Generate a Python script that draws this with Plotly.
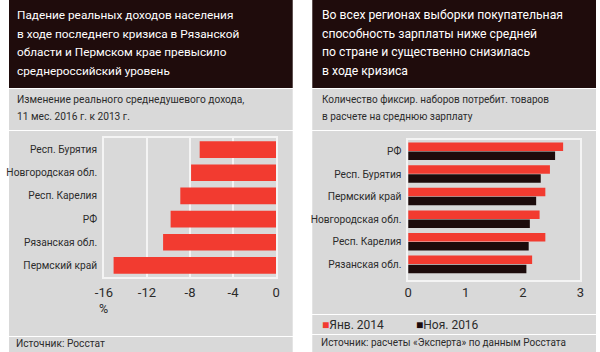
import plotly.graph_objects as go

W, H = 600, 352

# ---- data ----
left_categories = ["Респ. Бурятия", "Новгородская обл.", "Респ. Карелия", "РФ", "Рязанская обл.", "Пермский край"]
left_values = [-7.1, -7.9, -8.9, -9.8, -10.5, -15.1]
left_ticks = [-16, -12, -8, -4, 0]
left_tick_labels = ["-16", "-12", "-8", "-4", "0"]

right_categories = ["РФ", "Респ. Бурятия", "Пермский край", "Новгородская обл.", "Респ. Карелия", "Рязанская обл."]
series_names = ["Янв. 2014", "Ноя. 2016"]
jan2014 = [2.70, 2.47, 2.39, 2.29, 2.39, 2.16]
nov2016 = [2.56, 2.31, 2.23, 2.12, 2.10, 2.06]
right_ticks = [0, 1, 2, 3]

left_title = ["Падение реальных доходов населения", "в ходе последнего кризиса в Рязанской",
              "области и Пермском крае превысило", "среднероссийский уровень"]
right_title = ["Во всех регионах выборки покупательная", "способность зарплаты ниже средней",
               "по стране и существенно снизилась", "в ходе кризиса"]
left_sub = ["Изменение реального среднедушевого дохода,", "11 мес. 2016 г. к 2013 г."]
right_sub = ["Количество фиксир. наборов потребит. товаров", "в расчете на среднюю зарплату"]
left_source = "Источник: Росстат"
right_source = "Источник: расчеты «Эксперта» по данным Росстата"
unit_label = "%"

# ---- style ----
FONT = "Roboto, Liberation Sans, sans-serif"
DARK = "#1f0c0c"
GREY = "#d9d9d9"
RED = "#f23b30"
BLACK = "#1c0b0b"
TXT = "#2b2b2b"

def px(x):
    return x / W

def py(y):
    return 1 - y / H

fig = go.Figure()

fig.add_trace(go.Bar(
    x=left_values, y=left_categories, orientation="h",
    marker=dict(color=RED, line=dict(width=0)), width=0.72,
    xaxis="x", yaxis="y", showlegend=False))

fig.add_trace(go.Bar(
    x=jan2014, y=right_categories, orientation="h", name=series_names[0],
    marker=dict(color=RED, line=dict(width=0)),
    xaxis="x2", yaxis="y2", showlegend=False))
fig.add_trace(go.Bar(
    x=nov2016, y=right_categories, orientation="h", name=series_names[1],
    marker=dict(color=BLACK, line=dict(width=0)),
    xaxis="x2", yaxis="y2", showlegend=False))

shapes = []
def rect(x0, y0, x1, y1, color):
    shapes.append(dict(type="rect", xref="paper", yref="paper",
                       x0=px(x0), x1=px(x1), y0=py(y1), y1=py(y0),
                       fillcolor=color, line=dict(width=0), layer="below"))

# left panel
rect(0, 0, 290, 88, DARK)
rect(0, 89, 290, 130, GREY)
rect(0, 131, 290, 336, GREY)
rect(0, 337, 290, 352, GREY)
# right panel
rect(310, 0, 600, 88, DARK)
rect(310, 89, 600, 130, GREY)
rect(310, 131, 600, 314, GREY)
rect(310, 315, 600, 334, GREY)
rect(310, 335, 600, 352, GREY)

ann = []
def text(x, y, s, size, color, anchor="left"):
    ann.append(dict(x=px(x), y=py(y), xref="paper", yref="paper", text=s,
                    showarrow=False, xanchor=anchor, yanchor="middle", align="left",
                    borderpad=0, font=dict(family=FONT, size=size, color=color)))

title_y = [15, 33.7, 52.3, 71]
for i, line in enumerate(left_title):
    text(7, title_y[i], line, 11.8, "white")
for i, line in enumerate(right_title):
    text(319, title_y[i], line, 12.2, "white")
sub_y = [99, 116.5]
for i, line in enumerate(left_sub):
    text(7, sub_y[i], line, 10.2, TXT)
for i, line in enumerate(right_sub):
    text(319, sub_y[i], line, 10, TXT)
text(6, 343.5, left_source, 10.2, TXT)
text(318, 342.5, right_source, 10, TXT)
text(97, 308, unit_label, 12.5, TXT, anchor="center")
# legend
text(319, 325, f"<span style='color:{RED}'>■</span>{series_names[0]}", 12, TXT)
text(415, 325, f"<span style='color:{BLACK}'>■</span>{series_names[1]}", 12, TXT)

axis_common = dict(showline=True, mirror=True, linecolor="#f4f4f4", linewidth=1.5,
                   zeroline=False, tickfont=dict(family=FONT, size=13, color=TXT))
cat_font = dict(family=FONT, size=10.2, color=TXT)

fig.update_layout(
    width=W, height=H, margin=dict(l=0, r=0, t=0, b=0),
    paper_bgcolor="white", plot_bgcolor=GREY,
    barmode="group", bargap=0.2, bargroupgap=0.06,
    shapes=shapes, annotations=ann,
    font=dict(family=FONT),
    xaxis=dict(domain=[px(97), px(273)], range=[-16, 0], tickvals=left_ticks,
               ticktext=left_tick_labels,
               showgrid=True, gridcolor="#f4f4f4", gridwidth=1.5,
               ticks="outside", ticklen=3, tickcolor="rgba(0,0,0,0)",
               anchor="y", **axis_common),
    yaxis=dict(domain=[py(277), py(138)], range=[5.5, -0.5], showgrid=False,
               ticks="outside", ticklen=3, tickcolor="rgba(0,0,0,0)",
               anchor="x", **{**axis_common, "tickfont": cat_font}),
    xaxis2=dict(domain=[px(408), px(584)], range=[0, 3], tickvals=right_ticks,
                showgrid=False, ticks="outside", ticklen=0, tickcolor="rgba(0,0,0,0)",
                anchor="y2", **axis_common),
    yaxis2=dict(domain=[py(280), py(140)], range=[5.69, -0.5], showgrid=False,
                ticks="outside", ticklen=3, tickcolor="rgba(0,0,0,0)",
                anchor="x2", **{**axis_common, "tickfont": cat_font}),
)

fig.write_html("out.html")
